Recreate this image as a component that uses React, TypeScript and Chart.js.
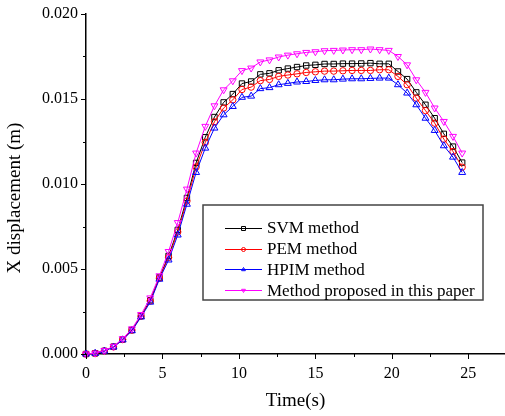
import React, { useEffect, useRef } from 'react';
import { Chart, registerables } from 'chart.js';

Chart.register(...registerables);

const TIMES = [0, 0.6, 1.2, 1.8, 2.4, 3.0, 3.6, 4.2, 4.8, 5.4, 6.0, 6.6, 7.2, 7.8, 8.4, 9.0, 9.6, 10.2, 10.8, 11.4, 12.0, 12.6, 13.2, 13.8, 14.4, 15.0, 15.6, 16.2, 16.8, 17.4, 18.0, 18.6, 19.2, 19.8, 20.4, 21.0, 21.6, 22.2, 22.8, 23.4, 24.0, 24.6];

const SVM = [0, 0.00004, 0.00018, 0.00043, 0.00086, 0.00141, 0.00224, 0.00316, 0.0045, 0.00577, 0.0073, 0.00918, 0.01124, 0.01275, 0.01394, 0.0148, 0.01529, 0.01591, 0.01603, 0.01645, 0.01651, 0.01669, 0.01679, 0.01688, 0.01697, 0.01701, 0.01706, 0.01706, 0.01708, 0.01708, 0.01709, 0.01711, 0.01707, 0.01707, 0.01662, 0.01617, 0.01539, 0.01466, 0.01387, 0.01295, 0.0122, 0.01126];

const PEM = [0, 0.00004, 0.00018, 0.00042, 0.00085, 0.0014, 0.00222, 0.00312, 0.00446, 0.00568, 0.00718, 0.009, 0.011, 0.01244, 0.01366, 0.01447, 0.01495, 0.01556, 0.0157, 0.01608, 0.01615, 0.01633, 0.01641, 0.01648, 0.01656, 0.0166, 0.01664, 0.01664, 0.01666, 0.01668, 0.01668, 0.01668, 0.01672, 0.01672, 0.01633, 0.01584, 0.01505, 0.01432, 0.01358, 0.01264, 0.01191, 0.01099];

const HPIM = [0, 0.00004, 0.00017, 0.00041, 0.00083, 0.00137, 0.00218, 0.00305, 0.0044, 0.00553, 0.007, 0.00881, 0.01068, 0.01211, 0.01329, 0.01407, 0.01456, 0.0151, 0.01517, 0.01561, 0.01567, 0.01584, 0.01592, 0.016, 0.01603, 0.01609, 0.01613, 0.01613, 0.01617, 0.01619, 0.01619, 0.01621, 0.01623, 0.01623, 0.01584, 0.01535, 0.01466, 0.01387, 0.01315, 0.01225, 0.01158, 0.01068];

const PROPOSED = [0, 0.00005, 0.0002, 0.00045, 0.0009, 0.00148, 0.00232, 0.0033, 0.0046, 0.00603, 0.00773, 0.0097, 0.01182, 0.01339, 0.0146, 0.01554, 0.01607, 0.01667, 0.01682, 0.01718, 0.0173, 0.01747, 0.01758, 0.01766, 0.01774, 0.01778, 0.01784, 0.01786, 0.01788, 0.0179, 0.0179, 0.01794, 0.0179, 0.01786, 0.0175, 0.01701, 0.01613, 0.01539, 0.01447, 0.01368, 0.0128, 0.01182];

const SERIES_NAMES = ['SVM method', 'PEM method', 'HPIM method', 'Method proposed in this paper'];
const SERIES_VALUES = [SVM, PEM, HPIM, PROPOSED];

const X_TITLE = 'Time(s)';
const Y_TITLE = 'X displacement (m)';

const FONT = "'Liberation Serif', 'Times New Roman', serif";

const STYLES = [
  { color: '#000000', pointStyle: 'rect', rotation: 0, radius: 3.8, order: 3 },
  { color: '#ff0000', pointStyle: 'circle', rotation: 0, radius: 3.2, order: 2 },
  { color: '#0000ff', pointStyle: 'triangle', rotation: 0, radius: 4, order: 1 },
  { color: '#ff00ff', pointStyle: 'triangle', rotation: 180, radius: 4, order: 0 },
];

function drawMarker(ctx: CanvasRenderingContext2D, style: string, rotation: number, x: number, y: number, r: number) {
  ctx.beginPath();
  if (style === 'rect') {
    ctx.rect(x - r, y - r, 2 * r, 2 * r);
  } else if (style === 'circle') {
    ctx.arc(x, y, r, 0, Math.PI * 2);
  } else {
    const dir = rotation === 180 ? 1 : -1;
    ctx.moveTo(x, y + dir * r);
    ctx.lineTo(x - r * 0.95, y - dir * r * 0.6);
    ctx.lineTo(x + r * 0.95, y - dir * r * 0.6);
    ctx.closePath();
  }
  ctx.stroke();
}

export default function App() {
  const ref = useRef<HTMLCanvasElement>(null);

  useEffect(() => {
    if (!ref.current) return;

    const decor = {
      id: 'decor',
      afterDraw(chart: any) {
        const ctx: CanvasRenderingContext2D = chart.ctx;
        const xs = chart.scales.x;
        const ys = chart.scales.y;
        const ca = chart.chartArea;
        ctx.save();
        ctx.strokeStyle = '#000';
        ctx.lineWidth = 1;
        for (let i = 0; i <= 10; i++) {
          const v = i * 2.5;
          const px = Math.round(xs.getPixelForValue(v)) + 0.5;
          const len = i % 2 === 0 ? 5 : 3;
          ctx.beginPath();
          ctx.moveTo(px, ca.bottom);
          ctx.lineTo(px, ca.bottom + len);
          ctx.stroke();
        }
        for (let i = 0; i <= 8; i++) {
          const v = i * 0.0025;
          const py = Math.round(ys.getPixelForValue(v)) + 0.5;
          const len = i % 2 === 0 ? 5 : 3;
          ctx.beginPath();
          ctx.moveTo(ca.left, py);
          ctx.lineTo(ca.left - len, py);
          ctx.stroke();
        }

        ctx.fillStyle = '#000';
        ctx.font = `19px ${FONT}`;
        ctx.textAlign = 'center';
        ctx.textBaseline = 'middle';
        ctx.fillText(X_TITLE, (ca.left + ca.right) / 2, 401);
        ctx.save();
        ctx.translate(15, 198);
        ctx.rotate(-Math.PI / 2);
        ctx.fillText(Y_TITLE, 0, 0);
        ctx.restore();

        const lx = 203, ly = 205, lw = 280, lh = 95;
        ctx.fillStyle = '#fff';
        ctx.fillRect(lx, ly, lw, lh);
        ctx.strokeStyle = '#444';
        ctx.lineWidth = 1.5;
        ctx.strokeRect(lx, ly, lw, lh);
        ctx.font = `17px ${FONT}`;
        ctx.textAlign = 'left';
        ctx.textBaseline = 'middle';
        SERIES_NAMES.forEach((name, i) => {
          const y = 228 + i * 20.7;
          const st = STYLES[i];
          ctx.strokeStyle = st.color;
          ctx.lineWidth = 1;
          ctx.beginPath();
          ctx.moveTo(225, Math.round(y) + 0.5);
          ctx.lineTo(262, Math.round(y) + 0.5);
          ctx.stroke();
          drawMarker(ctx, st.pointStyle, st.rotation, 243.5, Math.round(y) + 0.5, 2);
          ctx.fillStyle = '#000';
          ctx.fillText(name, 267, y + 1);
        });
        ctx.restore();
      },
    };

    const chart = new Chart(ref.current, {
      type: 'line',
      data: {
        datasets: SERIES_VALUES.map((vals, i) => ({
          label: SERIES_NAMES[i],
          data: TIMES.map((t, k) => ({ x: t, y: vals[k] })),
          borderColor: STYLES[i].color,
          borderWidth: 1,
          pointStyle: STYLES[i].pointStyle as any,
          rotation: STYLES[i].rotation,
          pointRadius: STYLES[i].radius,
          pointBorderWidth: 1,
          pointBorderColor: STYLES[i].color,
          pointBackgroundColor: 'rgba(255,255,255,0)',
          tension: 0,
          fill: false,
          order: STYLES[i].order,
          clip: false as any,
        })),
      },
      options: {
        animation: false,
        responsive: false,
        devicePixelRatio: 1,
        layout: { autoPadding: false, padding: { top: 14, right: 0, bottom: 0, left: 0 } },
        plugins: {
          legend: { display: false },
          tooltip: { enabled: false },
        },
        scales: {
          x: {
            type: 'linear',
            min: 0,
            max: 27.4,
            afterFit: (s: any) => { s.height = 62; },
            grid: { display: false, drawTicks: false },
            border: { display: true, color: '#000', width: 1.5 },
            ticks: {
              stepSize: 5,
              includeBounds: false,
              maxRotation: 0,
              padding: 10,
              color: '#000',
              font: { family: FONT, size: 16 },
              callback: (v: any) => String(v),
            },
          },
          y: {
            type: 'linear',
            min: 0,
            max: 0.02,
            afterFit: (s: any) => { s.width = 86; },
            grid: { display: false, drawTicks: false },
            border: { display: true, color: '#000', width: 1.5 },
            ticks: {
              stepSize: 0.005,
              padding: 8,
              color: '#000',
              font: { family: FONT, size: 16, lineHeight: 0.6 },
              callback: (v: any) => Number(v).toFixed(3),
            },
          },
        },
      },
      plugins: [decor],
    });

    return () => chart.destroy();
  }, []);

  return (
    <div style={{ position: 'fixed', left: 0, top: 0, width: 505, height: 416, background: '#fff' }}>
      <canvas ref={ref} width={505} height={416} />
    </div>
  );
}
